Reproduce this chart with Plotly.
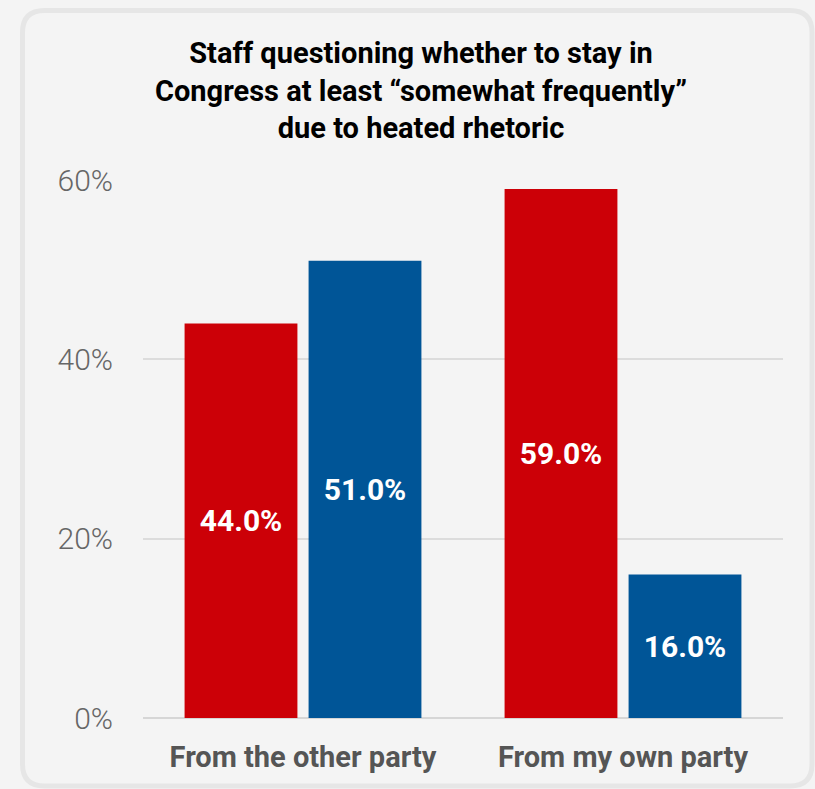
import plotly.graph_objects as go

categories = ["From the other party", "From my own party"]
series_a = [44.0, 59.0]   # red series
series_b = [51.0, 16.0]   # blue series
tick_vals = [0, 20, 40, 60]
tick_text = ["0%", "20%", "40%", "60%"]
title_text = "Staff questioning whether to stay in<br>Congress at least “somewhat frequently”<br>due to heated rhetoric"

RED = "#cc0007"
BLUE = "#005597"
BG = "#f4f4f4"

W, H = 815, 789
ML, MR, MT, MB = 143, 32, 180, 71
PW, PH = W - ML - MR, H - MT - MB


def px_to_paper(x, y):
    return (x - ML) / PW, (H - MB - y) / PH


def rounded_rect(x0, y0, x1, y1, r):
    # path in paper units for a rounded rectangle defined in pixels
    def P(x, y):
        px, py = px_to_paper(x, y)
        return f"{px:.5f},{py:.5f}"
    return (f"M {P(x0 + r, y0)} L {P(x1 - r, y0)} Q {P(x1, y0)} {P(x1, y0 + r)} "
            f"L {P(x1, y1 - r)} Q {P(x1, y1)} {P(x1 - r, y1)} "
            f"L {P(x0 + r, y1)} Q {P(x0, y1)} {P(x0, y1 - r)} "
            f"L {P(x0, y0 + r)} Q {P(x0, y0)} {P(x0 + r, y0)} Z")


fig = go.Figure()
for vals, color in [(series_a, RED), (series_b, BLUE)]:
    fig.add_trace(go.Bar(
        x=categories, y=vals, marker=dict(color=color, line=dict(width=0)),
        text=[f"{v:.1f}%" for v in vals], textposition="inside",
        insidetextanchor="middle", textangle=0,
        textfont=dict(family="Roboto", size=30, color="white", weight="bold"),
        hoverinfo="skip",
    ))

fig.add_shape(type="path", xref="paper", yref="paper",
              path=rounded_rect(22.5, 10.5, 812, 786, 22),
              line=dict(color="#e6e6e6", width=5), fillcolor=BG, layer="below")

tx, ty = px_to_paper(421, 91)
fig.add_annotation(text=title_text, xref="paper", yref="paper", x=tx, y=ty,
                   xanchor="center", yanchor="middle", showarrow=False, align="center",
                   font=dict(family="Roboto", size=29, color="#000000", weight="bold"))

fig.update_layout(
    width=W, height=H,
    margin=dict(l=ML, r=MR, t=MT, b=MB, pad=0),
    paper_bgcolor=BG, plot_bgcolor=BG,
    barmode="group", bargap=0.225, bargroupgap=0.09,
    showlegend=False,
    font=dict(family="Roboto"),
    uniformtext=dict(mode=False),
)
fig.update_yaxes(range=[0, 60], tickvals=tick_vals, ticktext=tick_text,
                 showgrid=True, gridcolor="#dcdcdc", gridwidth=1.5,
                 zeroline=True, zerolinecolor="#d6d6d6", zerolinewidth=1.5,
                 ticklabelstandoff=29, showline=False,
                 tickfont=dict(family="Roboto", size=30, color="#666666", weight=300))
fig.update_xaxes(showgrid=False, showline=False, ticks="",
                 tickfont=dict(family="Roboto", size=29, color="#555555", weight="bold"),
                 ticklabelstandoff=19)

fig.write_html("out.html")
